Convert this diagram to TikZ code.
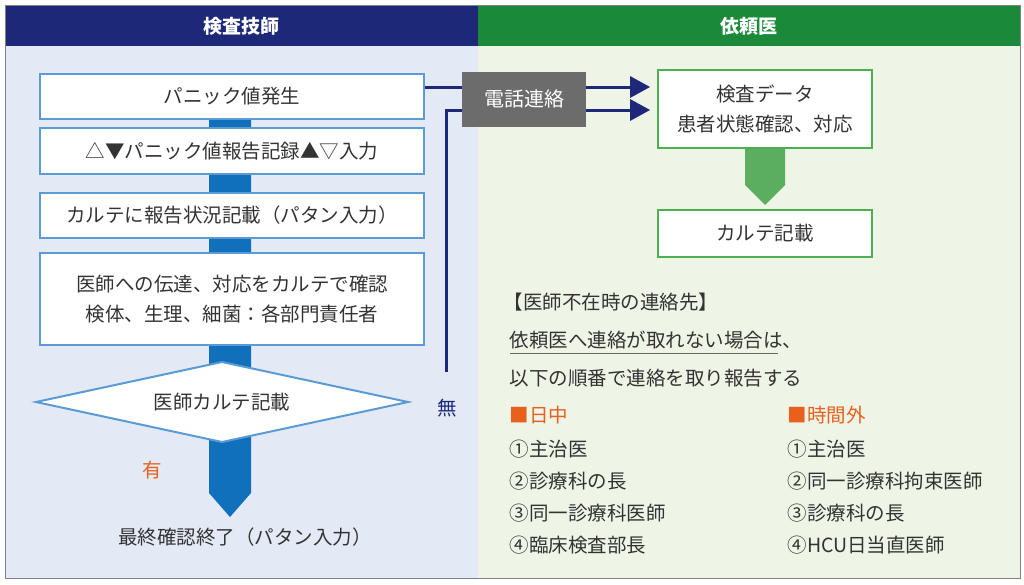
\documentclass[tikz,border=0pt]{standalone}
\usepackage{fontspec}
\setmainfont{Noto Sans CJK JP}
\usetikzlibrary{shapes.geometric}
\definecolor{navy}{HTML}{1E2878}
\definecolor{hgreen}{HTML}{1A8A3A}
\definecolor{lbg}{HTML}{E3EAF6}
\definecolor{rbg}{HTML}{EEF5E6}
\definecolor{bbar}{HTML}{1070BC}
\definecolor{bedge}{HTML}{5B9BD5}
\definecolor{gedge}{HTML}{4CAF50}
\definecolor{garrow}{HTML}{5BAE5F}
\definecolor{org}{HTML}{E8601C}
\definecolor{txt}{HTML}{333333}
\begin{document}
\begin{tikzpicture}[x=1pt,y=-1pt,
  every node/.style={font=\fontsize{19.5}{30}\selectfont, text=txt},
  lbox/.style={draw=bedge, line width=2pt, fill=white, minimum width=384pt, align=center},
  rbox/.style={draw=gedge, line width=2pt, fill=white, minimum width=214pt, align=center},
  nav/.style={navy, line width=3pt},
  tx/.style={anchor=west}]
\useasboundingbox (0,0) rectangle (1024,584);
\fill[lbg] (5,46) rectangle (478,578);
\fill[rbg] (478,46) rectangle (1020,578);
\fill[navy] (5,5) rectangle (478,46);
\fill[hgreen] (478,5) rectangle (1020,46);
\draw[gray, line width=1pt] (5,5) rectangle (1020,578);
\node[text=white, font=\fontsize{19}{22}\selectfont\bfseries] (h1) at (241,26) {検査技師};
\node[text=white, font=\fontsize{19}{22}\selectfont\bfseries] (h2) at (749,26) {依頼医};
% central bar
\fill[bbar] (209,115) -- (251,115) -- (251,493) -- (230,517) -- (209,493) -- cycle;
\node[lbox, minimum height=45pt] (b1) at (232,96) {パニック値発生};
\node[lbox, minimum height=46pt] (b2) at (232,151) {△▼パニック値報告記録▲▽入力};
\node[lbox, minimum height=45pt] (b3) at (232,215) {カルテに報告状況記載（パタン入力）};
\node[lbox, minimum height=92pt] (b4) at (232,299) {医師への伝達、対応をカルテで確認\\検体、生理、細菌：各部門責任者};
\draw[bedge, line width=2pt, fill=white] (36,402) -- (222,362) -- (408,402) -- (222,442) -- cycle;
\node (d) at (222,402) {医師カルテ記載};
\node[text=org] (yes) at (152,470) {有};
\node (fin) at (245,537) {最終確認終了（パタン入力）};
\node[text=navy] (no) at (447,408) {無};
% phone
\node[fill=gray!85!black, text=white, minimum width=124pt, minimum height=55pt, font=\fontsize{20}{22}\selectfont] (ph) at (524,99) {電話連絡};
\node[rbox, minimum height=78pt] (r1) at (765,109) {検査データ\\患者状態確認、対応};
\node[rbox, minimum height=47pt] (r2) at (765,233) {カルテ記載};
\coordinate (nb) at (446,372);
\draw[nav] (b1.east |- 0,87) -- (ph.west |- 0,87);
\draw[nav] (nb) -- (446,110) -- (ph.west |- 0,110);
\draw[nav] (ph.east |- 0,87) -- (632,87);
\draw[nav] (ph.east |- 0,110) -- (632,110);
\fill[navy] (630,76) -- (650,87) -- (630,98) -- cycle;
\fill[navy] (630,99) -- (650,110) -- (630,121) -- cycle;
\fill[garrow] (745,149) -- (785,149) -- (785,185) -- (765,205) -- (745,185) -- cycle;
% notes
\node[tx] (n1) at (500,302) {【医師不在時の連絡先】};
\node[tx] (n2) at (506,340) {依頼医へ連絡が取れない場合は、};
\draw[gray!80!black, line width=0.8pt] (510,353) -- (778,353);
\node[tx] (n3) at (506,378) {以下の順番で連絡を取り報告する};
\node[tx, text=org] (d0) at (506,415) {■日中};
\node[tx] (d1) at (506,449) {①主治医};
\node[tx] (d2) at (506,481) {②診療科の長};
\node[tx] (d3) at (506,513) {③同一診療科医師};
\node[tx] (d4) at (506,545) {④臨床検査部長};
\node[tx, text=org] (e0) at (784,415) {■時間外};
\node[tx] (e1) at (784,449) {①主治医};
\node[tx] (e2) at (784,481) {②同一診療科拘束医師};
\node[tx] (e3) at (784,513) {③診療科の長};
\node[tx] (e4) at (784,545) {④HCU日当直医師};
\end{tikzpicture}
\end{document}
